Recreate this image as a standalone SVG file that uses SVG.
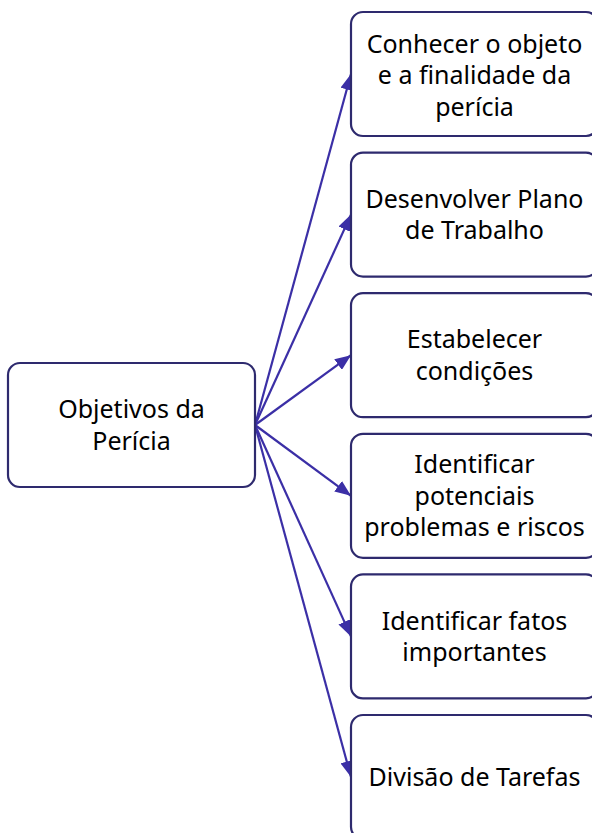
<svg xmlns="http://www.w3.org/2000/svg" width="592" height="833" viewBox="0 0 592 833">
<style>
.box{fill:#ffffff;stroke:#2e2a6e;stroke-width:2.2}
.t{font-family:"Noto Sans","Open Sans","Liberation Sans",sans-serif;font-size:25px;fill:#000;text-anchor:middle}
.c{stroke:#3b2fa6;stroke-width:2.2;fill:none;marker-end:url(#ah)}
</style>
<defs>
<marker id="ah" viewBox="0 0 16 13" refX="16" refY="6.5" markerWidth="16" markerHeight="13" markerUnits="userSpaceOnUse" orient="auto">
<path d="M0,0 L16,6.5 L0,13 Z" fill="#3b2fa6"/>
</marker>
</defs>
<rect width="592" height="833" fill="#ffffff"/>
<g id="connectors">
<line class="c" x1="255" y1="425" x2="351" y2="74"/>
<line class="c" x1="255" y1="425" x2="351" y2="214.6"/>
<line class="c" x1="255" y1="425" x2="351" y2="355.2"/>
<line class="c" x1="255" y1="425" x2="351" y2="495.8"/>
<line class="c" x1="255" y1="425" x2="351" y2="636.4"/>
<line class="c" x1="255" y1="425" x2="351" y2="777"/>
</g>
<g id="root">
<rect class="box" x="8" y="363" width="247" height="124" rx="12"/>
<text class="t" x="131.5" y="418">Objetivos da</text>
<text class="t" x="131.5" y="449.5">Perícia</text>
</g>
<g id="n1">
<rect class="box" x="351" y="12" width="247" height="124" rx="12"/>
<text class="t" x="474.5" y="52.5">Conhecer o objeto</text>
<text class="t" x="474.5" y="84">e a finalidade da</text>
<text class="t" x="474.5" y="115.5">perícia</text>
</g>
<g id="n2">
<rect class="box" x="351" y="152.6" width="247" height="124" rx="12"/>
<text class="t" x="474.5" y="207.8">Desenvolver Plano</text>
<text class="t" x="474.5" y="239.3">de Trabalho</text>
</g>
<g id="n3">
<rect class="box" x="351" y="293.2" width="247" height="124" rx="12"/>
<text class="t" x="474.5" y="348.4">Estabelecer</text>
<text class="t" x="474.5" y="379.9">condições</text>
</g>
<g id="n4">
<rect class="box" x="351" y="433.8" width="247" height="124" rx="12"/>
<text class="t" x="474.5" y="473.3">Identificar</text>
<text class="t" x="474.5" y="504.8">potenciais</text>
<text class="t" x="474.5" y="536.3">problemas e riscos</text>
</g>
<g id="n5">
<rect class="box" x="351" y="574.4" width="247" height="124" rx="12"/>
<text class="t" x="474.5" y="629.6">Identificar fatos</text>
<text class="t" x="474.5" y="661.1">importantes</text>
</g>
<g id="n6">
<rect class="box" x="351" y="715" width="247" height="124" rx="12"/>
<text class="t" x="474.5" y="786">Divisão de Tarefas</text>
</g>
</svg>
